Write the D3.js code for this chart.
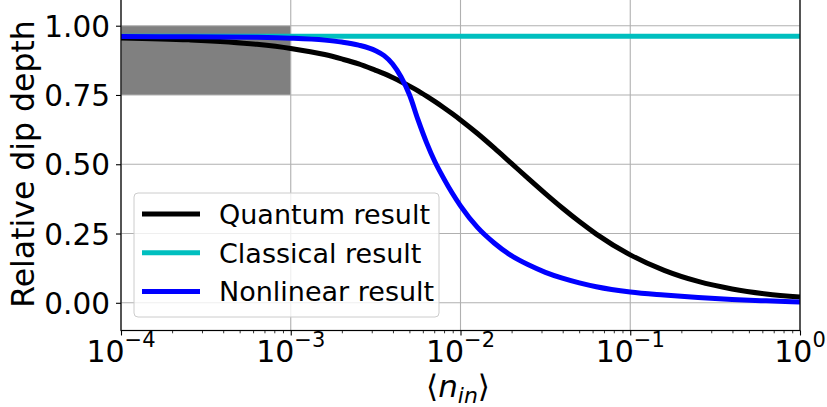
<!DOCTYPE html>
<html>
<head>
<meta charset="utf-8">
<script src="https://cdn.jsdelivr.net/npm/d3@7/dist/d3.min.js"></script>
<style>
  html, body { margin: 0; padding: 0; background: #fff; }
  svg { display: block; font-family: "DejaVu Sans", sans-serif; }
</style>
</head>
<body>
<svg id="chart" width="827" height="407"></svg>
<script>
// ---- data ----
const log10n = [-4, -3.6, -3.2, -3.0, -2.8, -2.7, -2.6, -2.5, -2.45, -2.4, -2.35, -2.3, -2.25, -2.2, -2.15, -2.1, -2.05, -2.0, -1.9, -1.8, -1.7, -1.6, -1.5, -1.4, -1.3, -1.2, -1.0, -0.8, -0.6, -0.4, -0.2, 0];
const quantum = [0.956, 0.949, 0.933, 0.918, 0.896, 0.880, 0.862, 0.839, 0.827, 0.813, 0.798, 0.782, 0.765, 0.746, 0.726, 0.705, 0.683, 0.660, 0.611, 0.558, 0.503, 0.448, 0.394, 0.342, 0.293, 0.248, 0.173, 0.117, 0.077, 0.050, 0.032, 0.021];
const classical = [0.962, 0.962, 0.962, 0.962, 0.962, 0.962, 0.962, 0.962, 0.962, 0.962, 0.962, 0.962, 0.962, 0.962, 0.962, 0.962, 0.962, 0.962, 0.962, 0.962, 0.962, 0.962, 0.962, 0.962, 0.962, 0.962, 0.962, 0.962, 0.962, 0.962, 0.962, 0.962];
const nonlinear = [0.961, 0.960, 0.958, 0.955, 0.948, 0.941, 0.930, 0.910, 0.892, 0.862, 0.815, 0.750, 0.660, 0.578, 0.508, 0.450, 0.397, 0.350, 0.272, 0.215, 0.170, 0.137, 0.110, 0.089, 0.072, 0.058, 0.039, 0.028, 0.019, 0.012, 0.007, 0.003];
const seriesNames = ["Quantum result", "Classical result", "Nonlinear result"];
const xTickExps = [-4, -3, -2, -1, 0];
const yTicks = [0.00, 0.25, 0.50, 0.75, 1.00];
const xDomain = [1e-4, 1];
const yDomain = [-0.1, 1.1];
const shadedX = [1e-4, 1e-3];
const shadedY = [0.75, 1.0];

// ---- layout ----
const svg = d3.select("#chart");
const L = 121, R = 800, T = -2, B = 330.5;
const x = d3.scaleLog().domain(xDomain).range([L, R]);
const y = d3.scaleLinear().domain(yDomain).range([B, T]);
const colors = ["#000000", "#00bfbf", "#0000ff"];
const gridColor = "#b0b0b0";

// shaded region
svg.append("rect")
  .attr("x", x(shadedX[0])).attr("y", y(shadedY[1]))
  .attr("width", x(shadedX[1]) - x(shadedX[0]))
  .attr("height", y(shadedY[0]) - y(shadedY[1]))
  .attr("fill", "#808080");

// grid
const grid = svg.append("g");
xTickExps.forEach(e => {
  grid.append("line").attr("x1", x(Math.pow(10, e))).attr("x2", x(Math.pow(10, e)))
    .attr("y1", T).attr("y2", B).attr("stroke", gridColor).attr("stroke-width", 1.1);
});
yTicks.forEach(v => {
  grid.append("line").attr("x1", L).attr("x2", R).attr("y1", y(v)).attr("y2", y(v))
    .attr("stroke", gridColor).attr("stroke-width", 1.1);
});

// lines
const pts = log10n.map(e => Math.pow(10, e));
const line = d3.line().x(d => x(d[0])).y(d => y(d[1])).curve(d3.curveMonotoneX);
svg.append("clipPath").attr("id", "clip").append("rect")
  .attr("x", L).attr("y", T).attr("width", R - L).attr("height", B - T);
[quantum, classical, nonlinear].forEach((s, i) => {
  svg.append("path")
    .datum(pts.map((n, k) => [n, s[k]]))
    .attr("d", line)
    .attr("fill", "none")
    .attr("stroke", colors[i])
    .attr("stroke-width", 5)
    .attr("clip-path", "url(#clip)");
});

// axes
const fs = 29.5;
const xAxis = d3.axisBottom(x).tickValues(xTickExps.map(e => Math.pow(10, e))).tickSize(5).tickFormat("");
const gx = svg.append("g").attr("transform", `translate(0,${B})`).call(xAxis);
gx.select(".domain").remove();
gx.selectAll(".tick line").attr("stroke", "#000").attr("stroke-width", 1.1);
const minor = [];
for (let e = -4; e < 0; e++) for (let m = 2; m <= 9; m++) minor.push(m * Math.pow(10, e));
const gxm = svg.append("g").attr("transform", `translate(0,${B})`)
  .call(d3.axisBottom(x).tickValues(minor).tickSize(2.8).tickFormat(""));
gxm.select(".domain").remove();
gxm.selectAll(".tick line").attr("stroke", "#000").attr("stroke-width", 0.8);

xTickExps.forEach(e => {
  const t = svg.append("text")
    .attr("x", x(Math.pow(10, e))).attr("y", 362)
    .attr("text-anchor", "middle").attr("font-size", 30).attr("fill", "#000");
  t.append("tspan").text("10");
  t.append("tspan").attr("dy", -15).attr("font-size", 21).text(e < 0 ? "\u2212" + Math.abs(e) : String(e));
});

const yAxis = d3.axisLeft(y).tickValues(yTicks).tickSize(5).tickPadding(6)
  .tickFormat(d3.format(".2f"));
const gy = svg.append("g").attr("transform", `translate(${L},0)`).call(yAxis);
gy.select(".domain").remove();
gy.selectAll(".tick line").attr("stroke", "#000").attr("stroke-width", 1.1);
gy.selectAll(".tick text").attr("font-size", fs).attr("font-family", "DejaVu Sans").attr("fill", "#000")
  .attr("dy", "0.36em");

// spines
svg.append("rect").attr("x", L).attr("y", T).attr("width", R - L).attr("height", B - T)
  .attr("fill", "none").attr("stroke", "#000").attr("stroke-width", 1.2);

// axis labels
svg.append("text")
  .attr("transform", "translate(34,164) rotate(-90)")
  .attr("text-anchor", "middle").attr("font-size", 31.5).attr("fill", "#000")
  .text("Relative dip depth");

const xl = svg.append("text").attr("x", 458).attr("y", 397)
  .attr("text-anchor", "middle").attr("font-size", 31).attr("fill", "#000");
xl.append("tspan").text("\u27E8");
xl.append("tspan").attr("font-style", "italic").text("n");
xl.append("tspan").attr("font-style", "italic").attr("font-size", 22).attr("dy", 6).text("in");
xl.append("tspan").attr("dy", -6).text("\u27E9");

// legend
const lg = svg.append("g");
lg.append("rect").attr("x", 134).attr("y", 193).attr("width", 305).attr("height", 124)
  .attr("rx", 4).attr("fill", "#fff").attr("fill-opacity", 0.8)
  .attr("stroke", "#cccccc").attr("stroke-width", 1);
seriesNames.forEach((name, i) => {
  const cy = 214 + i * 38.7;
  lg.append("line").attr("x1", 142).attr("x2", 200).attr("y1", cy).attr("y2", cy)
    .attr("stroke", colors[i]).attr("stroke-width", 5);
  lg.append("text").attr("x", 219).attr("y", cy + 10).attr("font-size", 27).attr("fill", "#000")
    .text(name);
});
</script>
</body>
</html>
